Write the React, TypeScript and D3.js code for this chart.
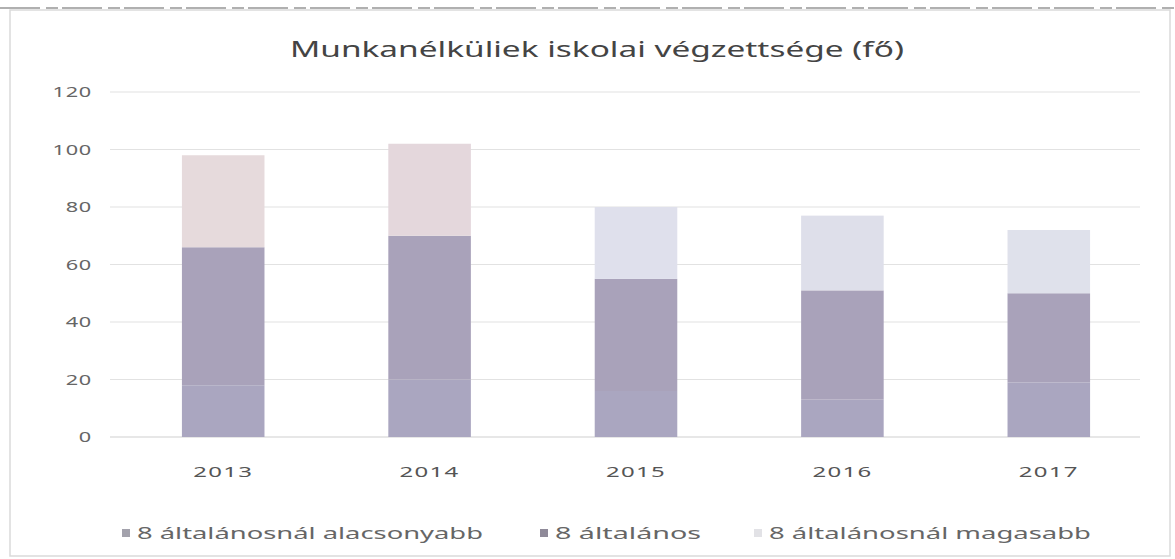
import React from "react";
import * as d3 from "d3";

const years = ["2013", "2014", "2015", "2016", "2017"];
const seriesNames = ["8 általánosnál alacsonyabb", "8 általános", "8 általánosnál magasabb"];
const lowerThan8 = [18, 20, 16, 13, 19];
const general8 = [48, 50, 39, 38, 31];
const higherThan8 = [32, 32, 25, 26, 22];
const yTicks = [0, 20, 40, 60, 80, 100, 120];

const seriesColors = ["#aaa6c0", "#a9a2ba", "#dedbe6"];
const topTints = ["#e6dadc", "#e4d7dc", "#dfe0ec", "#dedfea", "#dfe1eb"];
const legendSwatch = ["#a3a2ac", "#8f8a99", "#e2e2e6"];

export default function App() {
  const W = 1175, H = 559;
  const x0 = 120, x1 = 1152, yBase = 437, yTop = 92;
  const x = d3.scaleBand<string>().domain(years).range([x0, x1]).paddingInner(0.6).paddingOuter(0.3);
  const y = d3.scaleLinear().domain([0, 120]).range([yBase, yTop]);
  const rows = years.map((yr, i) => ({
    year: yr,
    s0: lowerThan8[i],
    s1: general8[i],
    s2: higherThan8[i],
  }));
  const stack = d3.stack<any>().keys(["s0", "s1", "s2"]);
  const layers = stack(rows);
  const font = "'Noto Sans', 'Open Sans', sans-serif";
  const legendX = [122, 540, 754];
  const legendLen = [346, 146, 322];
  const sx = 1.45;
  return (
    <svg width={W} height={H} style={{ position: "absolute", left: 0, top: 0, background: "#fff" }}>
      <rect x={0} y={0} width={W} height={H} fill="#fff" />
      <line x1={0} x2={W} y1={8} y2={8} stroke="#b0b0b0" strokeWidth={2} strokeDasharray="40 6 12 4" />
      <rect x={10} y={10} width={1160} height={546} fill="none" stroke="#dadada" strokeWidth={1.5} />
      <text x={597} y={57} textAnchor="middle" fontFamily={font} fontSize={21} fill="#444" textLength={614} lengthAdjust="spacingAndGlyphs">
        Munkanélküliek iskolai végzettsége (fő)
      </text>
      {yTicks.map((t) => (
        <g key={t}>
          <line x1={110} x2={1140} y1={y(t)} y2={y(t)} stroke={t === 0 ? "#cfcfcf" : "#e2e2e2"} strokeWidth={1.2} />
          <g transform={`translate(92,${y(t) + 5}) scale(${sx},1)`}>
            <text x={0} y={0} textAnchor="end" fontFamily={font} fontSize={15} fill="#666" letterSpacing={0.5}>
              {t}
            </text>
          </g>
        </g>
      ))}
      {layers.map((layer, li) =>
        layer.map((d, i) => (
          <rect
            key={li + "-" + i}
            x={x(years[i])}
            width={x.bandwidth()}
            y={y(d[1])}
            height={y(d[0]) - y(d[1])}
            fill={li === 2 ? topTints[i] : seriesColors[li]}
          />
        ))
      )}
      {years.map((yr) => (
        <g key={yr} transform={`translate(${(x(yr) as number) + x.bandwidth() / 2},477) scale(1.6,1)`}>
          <text x={0} y={0} textAnchor="middle" fontFamily={font} fontSize={15} fill="#555" letterSpacing={0.8}>
            {yr}
          </text>
        </g>
      ))}
      {seriesNames.map((n, i) => (
        <g key={n}>
          <rect x={legendX[i]} y={529} width={8} height={8} fill={legendSwatch[i]} />
          <text x={legendX[i] + 15} y={539} fontFamily={font} fontSize={16} fill="#666" textLength={legendLen[i]} lengthAdjust="spacingAndGlyphs">
            {n}
          </text>
        </g>
      ))}
    </svg>
  );
}
